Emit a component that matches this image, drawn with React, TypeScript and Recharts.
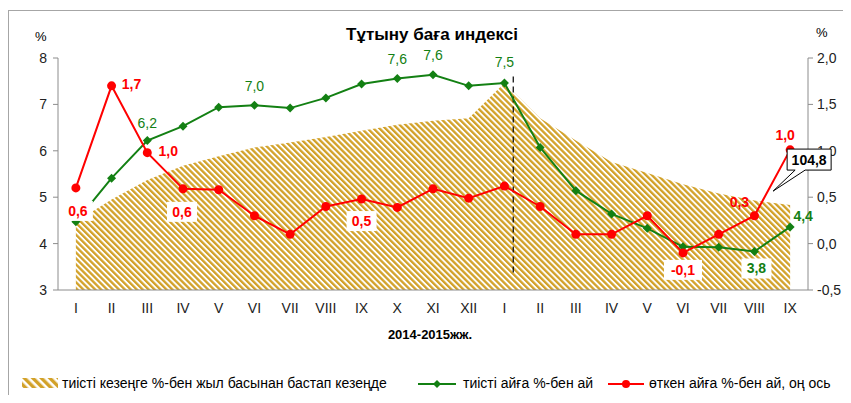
import { ComposedChart, Area, Line, XAxis, YAxis, LabelList, ReferenceLine } from 'recharts';

// 2014 I..XII, 2015 I..IX
const periods = ['I', 'II', 'III', 'IV', 'V', 'VI', 'VII', 'VIII', 'IX', 'X', 'XI', 'XII',
  'I', 'II', 'III', 'IV', 'V', 'VI', 'VII', 'VIII', 'IX'];

// since start of year vs same period of previous year (left axis)
const sinceYearStart = [4.47, 4.95, 5.37, 5.68, 5.88, 6.07, 6.18, 6.3, 6.43, 6.56, 6.65, 6.7,
  7.46, 6.7, 6.22, 5.76, 5.52, 5.28, 5.08, 4.93, 4.83];
// month vs same month of previous year (left axis)
const yoyMonth = [4.47, 5.41, 6.22, 6.53, 6.94, 6.98, 6.92, 7.14, 7.44, 7.56, 7.64, 7.4,
  7.46, 6.07, 5.14, 4.64, 4.33, 3.93, 3.92, 3.83, 4.36];
// month vs previous month (right axis)
const momMonth = [0.6, 1.7, 0.98, 0.59, 0.58, 0.3, 0.1, 0.4, 0.48, 0.39, 0.59, 0.49,
  0.62, 0.4, 0.1, 0.1, 0.3, -0.1, 0.1, 0.3, 1.01];

const leftTicks = [3, 4, 5, 6, 7, 8];
const rightTicks = [-0.5, 0, 0.5, 1, 1.5, 2];
const calloutText = '104,8';

const data = periods.map((p, i) => ({
  period: p,
  cum: sinceYearStart[i],
  yoy: yoyMonth[i],
  mom: momMonth[i],
}));

const GREEN = '#138013';
const RED = '#ff0000';
const GOLD = '#d2a128';
const AXIS = '#8c8c8c';

const fmt = (v: number) => v.toFixed(1).replace('.', ',');

type LabelCfg = { dx: number; dy: number; box?: boolean; bold?: boolean };

const yoyLabels: Record<number, LabelCfg> = {
  2: { dx: 0, dy: -18 },
  5: { dx: 0, dy: -19 },
  9: { dx: 0, dy: -19 },
  10: { dx: 0, dy: -20 },
  12: { dx: 0, dy: -21 },
  19: { dx: 2, dy: 17, box: true, bold: true },
  20: { dx: 13, dy: -11, bold: true },
};

const momLabels: Record<number, LabelCfg> = {
  0: { dx: 2, dy: 23, box: true },
  1: { dx: 20, dy: -2 },
  2: { dx: 21, dy: -2 },
  3: { dx: -1, dy: 23, box: true },
  8: { dx: 0, dy: 22, box: true },
  17: { dx: 0, dy: 17, box: true },
  19: { dx: -15, dy: -14 },
  20: { dx: -5, dy: -15 },
};

const makeLabel = (cfg: Record<number, LabelCfg>, color: string, defaultBold: boolean) =>
  (props: any) => {
    const { x, y, index, value } = props;
    const c = cfg[index];
    if (!c) return null;
    const text = fmt(Number(value));
    const cx = x + c.dx;
    const cy = y + c.dy;
    const w = text.length * 8 + 6;
    return (
      <g key={`l${index}`}>
        {c.box && <rect x={cx - w / 2} y={cy - 10} width={w} height={20} fill="#fff" />}
        <text x={cx} y={cy} textAnchor="middle" dominantBaseline="central"
          fill={color} fontSize={14} fontWeight={c.bold || defaultBold ? 'bold' : 'normal'}>
          {text}
        </text>
      </g>
    );
  };

const Callout = (props: any) => {
  const { x, y, index } = props;
  if (index !== periods.length - 1) return null;
  const d = `M${x - 3},${y - 56} H${x + 41} V${y - 35} H${x + 15} L${x - 17},${y - 14} L${x + 5},${y - 35} H${x - 3} Z`;
  return (
    <g key="callout">
      <path d={d} fill="#fff" stroke="#000" strokeWidth={1} />
      <text x={x + 19} y={y - 45.5} textAnchor="middle" dominantBaseline="central"
        fontSize={14} fontWeight="bold" fill="#000">{calloutText}</text>
    </g>
  );
};

const Diamond = (props: any) => {
  const { cx, cy, index } = props;
  return <path key={`dm${index}`} d={`M${cx},${cy - 4.5} L${cx + 4.5},${cy} L${cx},${cy + 4.5} L${cx - 4.5},${cy} Z`} fill={GREEN} />;
};

const App = () => {
  return (
    <div style={{ position: 'relative', width: 843, height: 387, overflow: 'hidden', fontFamily: '"Liberation Sans", Arial, sans-serif', background: '#fff' }}>
      <div style={{ position: 'absolute', left: 0, top: 2, width: 2000, height: 2000, border: '1px solid #a6a6a6' }} />
      <div style={{ position: 'absolute', left: 424, top: 17, transform: 'translateX(-50%)', fontWeight: 'bold', fontSize: 17, whiteSpace: 'nowrap' }}>
        Тұтыну баға индексі
      </div>
      <div style={{ position: 'absolute', left: 27, top: 21, fontSize: 13 }}>%</div>
      <div style={{ position: 'absolute', left: 808, top: 17, fontSize: 13 }}>%</div>
      <div style={{ position: 'absolute', left: 422, top: 319, transform: 'translateX(-50%)', fontSize: 13, fontWeight: 'bold', whiteSpace: 'nowrap' }}>2014-2015жж.</div>

      <div style={{ position: 'absolute', left: 0, top: 0 }}>
        <ComposedChart width={843} height={387} data={data} margin={{ top: 50, right: 8, bottom: 75, left: 20 }}>
          <defs>
            <pattern id="hatch" patternUnits="userSpaceOnUse" width={4.2} height={4.2} patternTransform="rotate(-45)">
              <rect x={0} y={0} width={4.2} height={4.2} fill="#fff" />
              <rect x={0} y={0} width={2.3} height={4.2} fill={GOLD} />
            </pattern>
          </defs>
          <XAxis dataKey="period" interval={0} tickLine={false} tickSize={0} tickMargin={13}
            padding={{ left: 17.86, right: 17.86 }}
            axisLine={{ stroke: AXIS }} tick={{ fontSize: 14, fill: '#222' }} />
          <XAxis xAxisId="num" type="number" domain={[0, 21]} hide />
          <YAxis yAxisId="left" domain={[3, 8]} ticks={leftTicks} width={30} tickSize={5} tickMargin={6}
            axisLine={{ stroke: AXIS }} tickLine={{ stroke: AXIS }} tick={{ fontSize: 14, fill: '#222' }} />
          <YAxis yAxisId="right" orientation="right" domain={[-0.5, 2]} ticks={rightTicks} width={35}
            tickSize={5} tickMargin={4} tickFormatter={fmt}
            axisLine={{ stroke: AXIS }} tickLine={{ stroke: AXIS }} tick={{ fontSize: 14, fill: '#222' }} />
          <Area yAxisId="left" type="linear" dataKey="cum" fill="url(#hatch)" fillOpacity={1} stroke="none"
            isAnimationActive={false} />
          <ReferenceLine xAxisId="num" yAxisId="right" segment={[{ x: 12.14, y: 1.8 }, { x: 12.14, y: -0.34 }]}
            stroke="#000" strokeDasharray="6 4" strokeWidth={1.2} />
          <Line yAxisId="left" type="linear" dataKey="yoy" stroke={GREEN} strokeWidth={2}
            dot={Diamond} activeDot={false} isAnimationActive={false}>
            <LabelList dataKey="yoy" content={makeLabel(yoyLabels, GREEN, false)} />
          </Line>
          <Line yAxisId="right" type="linear" dataKey="mom" stroke={RED} strokeWidth={2}
            dot={{ r: 4.5, fill: RED, stroke: RED, strokeWidth: 0 }} activeDot={false} isAnimationActive={false}>
            <LabelList dataKey="mom" content={makeLabel(momLabels, RED, true)} />
          </Line>
          <Area yAxisId="left" type="linear" dataKey="cum" fill="none" stroke="none" isAnimationActive={false}
            legendType="none">
            <LabelList dataKey="cum" content={Callout} />
          </Area>
        </ComposedChart>
      </div>

      <div style={{ position: 'absolute', left: 0, top: 366, height: 20, width: 843, fontSize: 14, whiteSpace: 'nowrap' }}>
        <svg style={{ position: 'absolute', left: 14, top: 4 }} width={36} height={10}>
          <defs>
            <pattern id="hatchLegend" patternUnits="userSpaceOnUse" width={6} height={6} patternTransform="rotate(-45)">
              <rect width={6} height={6} fill="#fff" />
              <rect width={3.4} height={6} fill={GOLD} />
            </pattern>
          </defs>
          <rect width={36} height={10} fill="url(#hatchLegend)" />
        </svg>
        <span style={{ position: 'absolute', left: 54, top: 1 }}>тиісті кезеңге %-бен жыл басынан бастап кезеңде</span>
        <svg style={{ position: 'absolute', left: 410, top: 4 }} width={38} height={12}>
          <line x1={0} y1={6} x2={38} y2={6} stroke={GREEN} strokeWidth={2} />
          <path d="M19,2 L23,6 L19,10 L15,6 Z" fill={GREEN} />
        </svg>
        <span style={{ position: 'absolute', left: 455, top: 1 }}>тиісті айға %-бен ай</span>
        <svg style={{ position: 'absolute', left: 600, top: 4 }} width={36} height={12}>
          <line x1={0} y1={6} x2={36} y2={6} stroke={RED} strokeWidth={2} />
          <circle cx={18} cy={6} r={4} fill={RED} />
        </svg>
        <span style={{ position: 'absolute', left: 641, top: 1 }}>өткен айға %-бен ай, оң ось</span>
      </div>
    </div>
  );
};

export default App;
